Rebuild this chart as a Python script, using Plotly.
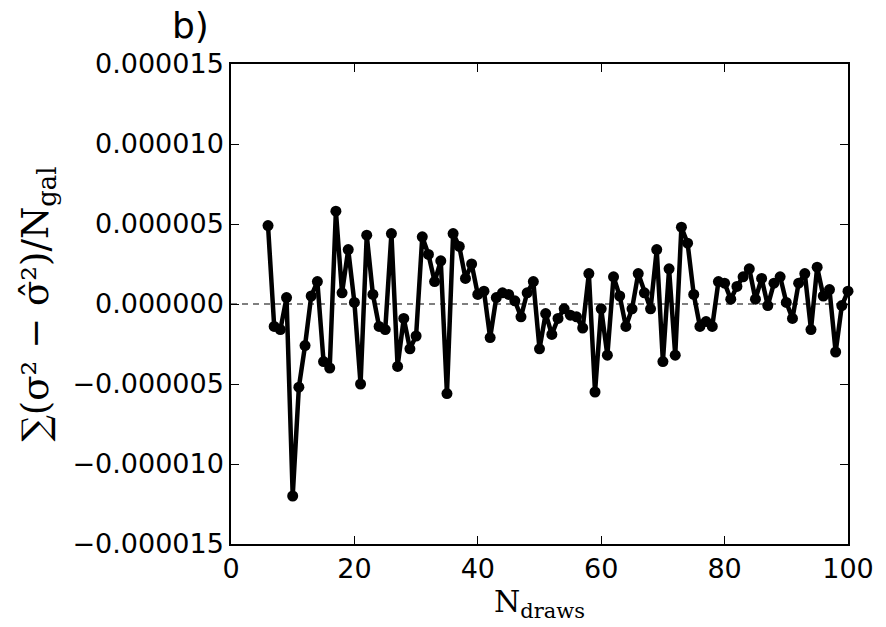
import plotly.graph_objects as go

n_draws = list(range(6, 101))
diff_e6 = [4.9, -1.4, -1.6, 0.4, -12.0, -5.2, -2.6, 0.5, 1.4, -3.6,
           -4.0, 5.8, 0.7, 3.4, 0.1, -5.0, 4.3, 0.6, -1.4, -1.6,
           4.4, -3.9, -0.9, -2.8, -2.0, 4.2, 3.1, 1.4, 2.7, -5.6,
           4.4, 3.6, 1.6, 2.5, 0.6, 0.8, -2.1, 0.4, 0.7, 0.6,
           0.2, -0.8, 0.7, 1.4, -2.8, -0.6, -1.9, -0.9, -0.3, -0.7,
           -0.8, -1.5, 1.9, -5.5, -0.3, -3.2, 1.7, 0.5, -1.4, -0.3,
           1.9, 0.7, -0.3, 3.4, -3.6, 2.2, -3.2, 4.8, 3.8, 0.6,
           -1.4, -1.1, -1.4, 1.4, 1.3, 0.3, 1.1, 1.7, 2.2, 0.3,
           1.6, -0.1, 1.3, 1.7, 0.1, -0.9, 1.3, 1.9, -1.6, 2.3,
           0.5, 0.9, -3.0, -0.1, 0.8]
diff = [v * 1e-6 for v in diff_e6]

y_ticks = [-15e-6, -10e-6, -5e-6, 0, 5e-6, 10e-6, 15e-6]
y_ticktext = ["−0.000015", "−0.000010", "−0.000005", "0.000000",
              "0.000005", "0.000010", "0.000015"]
x_ticks = [0, 20, 40, 60, 80, 100]

fig = go.Figure()
fig.add_trace(go.Scatter(x=[0, 100], y=[0, 0], mode="lines",
                         line=dict(color="black", width=1.2, dash="6px,5px"),
                         hoverinfo="skip", showlegend=False))
fig.add_trace(go.Scatter(x=n_draws, y=diff, mode="lines+markers",
                         line=dict(color="black", width=4.5),
                         marker=dict(color="black", size=11),
                         showlegend=False, cliponaxis=False))

axis_common = dict(showgrid=False, zeroline=False, showline=True, linecolor="black",
                   linewidth=1.5, mirror="ticks", ticks="inside", ticklen=8,
                   tickwidth=1, tickcolor="black",
                   tickfont=dict(family="DejaVu Sans", size=27, color="#000000"))

fig.update_layout(
    width=886, height=627,
    margin=dict(l=231, r=36, t=64, b=83),
    plot_bgcolor="white", paper_bgcolor="white",
    xaxis=dict(range=[0, 100], tickvals=x_ticks,
               title=dict(text="N<sub>draws</sub>", standoff=6,
                          font=dict(family="DejaVu Serif", size=30, color="#000000")),
               **axis_common),
    yaxis=dict(range=[-15e-6, 15e-6], tickvals=y_ticks, ticktext=y_ticktext,
               title=dict(text="∑(σ² − σ̂²)/N<sub>gal</sub>", standoff=12,
                          font=dict(family="DejaVu Serif", size=37, color="#000000")),
               **axis_common),
    annotations=[dict(text="b)", xref="paper", yref="paper",
                      x=(190 - 231) / 619, y=1.0, xanchor="center", yanchor="bottom",
                      yshift=16, showarrow=False,
                      font=dict(family="DejaVu Sans", size=36, color="#000000"))],
)
fig.write_html("out.html")
